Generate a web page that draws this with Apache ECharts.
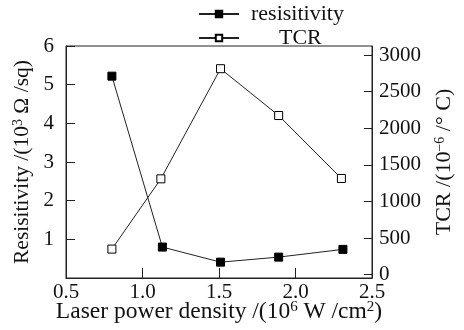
<!DOCTYPE html>
<html>
<head>
<meta charset="utf-8">
<script src="https://cdn.jsdelivr.net/npm/echarts@6/dist/echarts.min.js"></script>
<style>html,body{margin:0;padding:0;background:#fff;}#c{width:464px;height:330px;}</style>
</head>
<body>
<div id="c"></div>
<script>
// Data
const resX = [0.8, 1.13, 1.51, 1.89, 2.31];
const resY = [5.22, 0.80, 0.41, 0.54, 0.74];
const tcrX = [0.8, 1.12, 1.51, 1.89, 2.30];
const tcrY = [350, 1310, 2815, 2175, 1315];
const xTicks = [0.5, 1.0, 1.5, 2.0, 2.5];
const leftTicks = [1, 2, 3, 4, 5, 6];
const rightTicks = [0, 500, 1000, 1500, 2000, 2500, 3000];
const seriesNames = ['resisitivity', 'TCR'];

const FONT = 'Liberation Serif';
const INK = '#111';
const LINE = '#222';

function pairs(xs, ys) { return xs.map((x, i) => [x, ys[i]]); }

const chart = echarts.init(document.getElementById('c'), null, { renderer: 'canvas' });
function richFor(size) {
  return { sup: { fontSize: size, fontFamily: FONT, color: INK, verticalAlign: 'top', lineHeight: size } };
}
chart.setOption({
  animation: false,
  backgroundColor: '#fff',
  textStyle: { fontFamily: FONT, color: INK },
  grid: {
    left: 66, right: 92, top: 46, bottom: 52, outerBoundsMode: 'none', containLabel: false,
    show: true, borderColor: LINE, borderWidth: 1, backgroundColor: 'transparent'
  },
  legend: [
    {
      data: [seriesNames[0]], left: 198, top: 3, padding: 0, itemWidth: 40, itemHeight: 8,
      textStyle: { fontFamily: FONT, fontSize: 22, color: INK, padding: [0, 0, 0, 7] }
    },
    {
      data: [seriesNames[1]], left: 198, top: 27, padding: 0, itemWidth: 40, itemHeight: 8,
      textStyle: { fontFamily: FONT, fontSize: 22, color: INK, padding: [0, 0, 0, 35] }
    }
  ],
  xAxis: {
    type: 'value', min: xTicks[0], max: xTicks[xTicks.length - 1], interval: 0.5,
    name: 'Laser power density /(10{sup|6} W /cm{sup|2})',
    nameLocation: 'middle', nameGap: 22, nameMoveOverlap: false,
    nameTextStyle: { fontFamily: FONT, fontSize: 23.5, color: INK, rich: richFor(15) },
    axisLine: { show: true, onZero: false, lineStyle: { color: LINE, width: 1 } },
    axisTick: { show: true, inside: true, length: 10, lineStyle: { color: LINE } },
    axisLabel: { fontFamily: FONT, fontSize: 21, color: INK, margin: 4, formatter: v => v.toFixed(1) },
    splitLine: { show: false }
  },
  yAxis: [
    {
      type: 'value', min: 0, max: 6, interval: 1, position: 'left',
      name: 'Resisitivity /(10{sup|3} Ω /sq)',
      nameLocation: 'middle', nameGap: 33, nameRotate: 90, nameMoveOverlap: false,
      nameTextStyle: { fontFamily: FONT, fontSize: 21.5, color: INK, rich: richFor(14) },
      axisLine: { show: true, lineStyle: { color: LINE, width: 1 } },
      axisTick: { show: true, inside: true, length: 9, lineStyle: { color: LINE } },
      axisLabel: {
        fontFamily: FONT, fontSize: 21, color: INK, margin: 12, showMinLabel: false,
        formatter: v => leftTicks.indexOf(v) >= 0 ? String(v) : ''
      },
      splitLine: { show: false }
    },
    {
      type: 'value', min: -45, max: 3125, splitNumber: 6, position: 'right',
      name: 'TCR /(10{sup|−6} /° C)',
      nameLocation: 'middle', nameGap: 61, nameRotate: 90, nameMoveOverlap: false,
      nameTextStyle: { fontFamily: FONT, fontSize: 22, color: INK, rich: richFor(14) },
      axisLine: { show: true, lineStyle: { color: LINE, width: 1 } },
      axisTick: { show: true, inside: true, length: 8, lineStyle: { color: LINE } },
      axisLabel: {
        fontFamily: FONT, fontSize: 21, color: INK, margin: 7, showMinLabel: false, showMaxLabel: false,
        formatter: v => rightTicks.indexOf(v) >= 0 ? String(v) : ''
      },
      splitLine: { show: false }
    }
  ],
  series: [
    {
      name: seriesNames[0], type: 'line', yAxisIndex: 0, data: pairs(resX, resY),
      symbol: 'rect', symbolSize: 8,
      itemStyle: { color: '#000', borderColor: '#000', borderWidth: 1 },
      lineStyle: { color: LINE, width: 1 }
    },
    {
      name: seriesNames[1], type: 'line', yAxisIndex: 1, data: pairs(tcrX, tcrY),
      symbol: 'rect', symbolSize: 8,
      itemStyle: { color: '#fff', borderColor: '#000', borderWidth: 1 },
      lineStyle: { color: LINE, width: 1 }
    }
  ]
});
</script>
</body>
</html>
